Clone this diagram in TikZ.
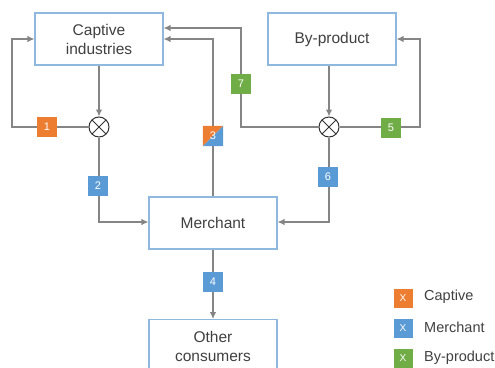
\documentclass[tikz,border=0pt]{standalone}
\usepackage{fontspec}
\setmainfont{Liberation Sans}
\usetikzlibrary{arrows.meta}
\definecolor{cor}{HTML}{ED7D31}
\definecolor{cbl}{HTML}{5B9BD5}
\definecolor{cgr}{HTML}{70AD47}
\definecolor{cbox}{HTML}{8FB8DE}
\definecolor{cln}{HTML}{858585}
\definecolor{ctx}{HTML}{404040}
\tikzset{
  box/.style={draw=cbox, line width=1.1pt, fill=white, minimum width=128pt, minimum height=52pt, text=ctx, align=center, font=\fontsize{15.5}{19}\selectfont, inner sep=0pt},
  tag/.style={minimum width=20pt, minimum height=20pt, inner sep=0pt, text=white, font=\fontsize{11}{12}\selectfont},
  mix/.style={circle, draw=black!80, line width=1pt, fill=white, minimum size=20pt, inner sep=0pt,
    path picture={\draw[black!80, line width=1pt] (path picture bounding box.north west)--(path picture bounding box.south east) (path picture bounding box.south west)--(path picture bounding box.north east);}},
  ln/.style={draw=cln, line width=1.2pt},
  arr/.style={ln, -{Latex[length=7pt,width=6.5pt]}, shorten >=0pt},
  leg/.style={text=ctx, font=\fontsize{14.5}{17}\selectfont, anchor=west, inner sep=0pt}
}
\begin{document}
\begin{tikzpicture}[x=1pt,y=-1pt]
\useasboundingbox (0,0) rectangle (495,367);
% boxes
\node[box] (cap) at (99,39) {Captive\\industries};
\node[box] (byp) at (332,39) {By-product};
\node[box] (mer) at (213,223) {Merchant};
\node[box, minimum height=60pt, anchor=north] (oth) at (213,319) {};
\node[text=ctx, font=\fontsize{15.5}{19}\selectfont, align=center, inner sep=0pt] (othtxt) at (213,346.5) {Other\\consumers};
% mixers
\node[mix] (m1) at (99,127) {};
\node[mix] (m2) at (329,127) {};
% helper coordinates
\coordinate (l1a) at (12,127);
\coordinate (l1b) at (12,39);
\coordinate (c2) at (99,222);
\coordinate (c3) at (213,39);
\coordinate (c7a) at (241,127);
\coordinate (c7b) at (241,28);
\coordinate (c5a) at (420,127);
\coordinate (c5b) at (420,39);
\coordinate (c6) at (329,222);
% connectors
\draw[arr] (cap.south) -- (m1.north);
\draw[arr] (m1.west) -- (l1a) -- (l1b) -- (cap.west |- l1b);
\draw[arr] (m1.south) -- (c2) -- (mer.west |- c2);
\draw[arr] (mer.north -| c3) -- (c3) -- (cap.east |- c3);
\draw[arr] (m2.west) -- (c7a) -- (c7b) -- (cap.east |- c7b);
\draw[arr] (byp.south -| m2) -- (m2.north);
\draw[arr] (m2.east) -- (c5a) -- (c5b) -- (byp.east |- c5b);
\draw[arr] (m2.south) -- (c6) -- (mer.east |- c6);
\draw[arr] (mer.south) -- (oth.north);
% tags
\node[tag, fill=cor] (t1) at (47,127) {1};
\node[tag, fill=cbl] (t2) at (98,186) {2};
\node[tag] (t3) at (213,136) {};
\fill[cor] (t3.north west) -- (t3.north east) -- (t3.south west) -- cycle;
\fill[cbl] (t3.north east) -- (t3.south east) -- (t3.south west) -- cycle;
\node[tag] at (t3) {3};
\node[tag, fill=cbl] (t4) at (213,282) {4};
\node[tag, fill=cgr] (t5) at (391,128) {5};
\node[tag, fill=cbl] (t6) at (328,177) {6};
\node[tag, fill=cgr] (t7) at (241,84) {7};
% legend
\node[tag, fill=cor, minimum size=19pt, font=\fontsize{10}{12}\selectfont] (lg1) at (403,298) {X};
\node[tag, fill=cbl, minimum size=19pt, font=\fontsize{10}{12}\selectfont] (lg2) at (403,328) {X};
\node[tag, fill=cgr, minimum size=19pt, font=\fontsize{10}{12}\selectfont] (lg3) at (403,358) {X};
\node[leg] (lt1) at (424,297) {Captive};
\node[leg] (lt2) at (424,327) {Merchant};
\node[leg] (lt3) at (424,358) {By-product};
\end{tikzpicture}
\end{document}
